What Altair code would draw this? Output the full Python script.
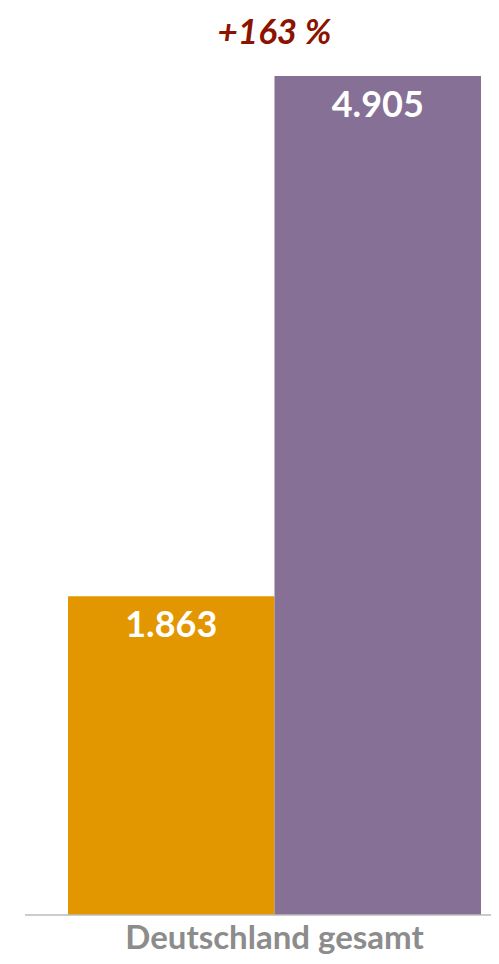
import altair as alt
import pandas as pd

categories = ["Deutschland gesamt", "Deutschland gesamt"]
series = ["Periode 1", "Periode 2"]
values = [1863, 4905]
change_label = "+163 %"

labels = [f"{v:,}".replace(",", ".") for v in values]
df = pd.DataFrame({"cat": categories, "series": series, "value": values, "label": labels})

colors = ["#E29700", "#877096"]
FONT = "Lato"

x = alt.X("cat:N", title=None,
          scale=alt.Scale(paddingInner=0, paddingOuter=0),
          axis=alt.Axis(labelAngle=0, ticks=False, domain=False, labelFont=FONT,
                        labelFontSize=33, labelFontWeight="bold", labelColor="#8C8C8C",
                        labelPadding=7, labelLimit=0))
xo = alt.XOffset("series:N", scale=alt.Scale(paddingInner=0, paddingOuter=0))
y = alt.Y("value:Q", scale=alt.Scale(domain=[0, 4905], nice=False), axis=None)

bars = alt.Chart(df).mark_bar().encode(
    x=x, xOffset=xo, y=y,
    color=alt.Color("series:N", scale=alt.Scale(domain=series, range=colors), legend=None),
)

text = alt.Chart(df).mark_text(
    baseline="middle", dy=30, font=FONT, fontSize=36, fontWeight="bold", color="white"
).encode(x=x, xOffset=xo, y=y, text="label:N")

base = alt.Chart(pd.DataFrame({"v": [0]})).mark_rule(color="#BBBBBB", strokeWidth=1.5).encode(
    y=alt.Y("v:Q", scale=alt.Scale(domain=[0, 4905], nice=False), axis=None),
    x=alt.value(-43), x2=alt.value(431),
)

chart = alt.layer(bars, text, base).properties(
    width=413, height=839,
    autosize=alt.AutoSizeParams(type="none"),
    padding={"left": 60, "top": 68, "right": 10, "bottom": 41},
    title=alt.TitleParams(change_label, font=FONT, fontSize=35, fontWeight="bold",
                          fontStyle="italic", color="#8B1300", anchor="middle", offset=25),
).configure(background="white", view=alt.ViewConfig(stroke=None))

chart.save("out.html", embed_options={"renderer": "svg", "actions": False})
